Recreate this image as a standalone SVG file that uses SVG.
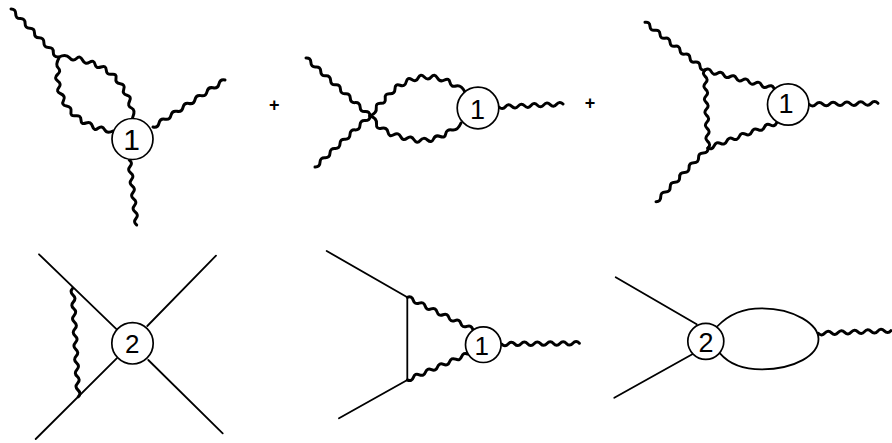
<svg xmlns="http://www.w3.org/2000/svg" width="892" height="443" viewBox="0 0 892 443">
<style>
.w{fill:none;stroke:#000;stroke-width:3;stroke-linecap:round;stroke-linejoin:round}
.s{fill:none;stroke:#000;stroke-width:1.8;stroke-linecap:round}
.c{fill:#fff;stroke:#000;stroke-width:1.7}
.n{font-family:"Liberation Sans",Arial,sans-serif;fill:#000;text-anchor:middle}
.p{font-family:"Liberation Sans",Arial,sans-serif;font-weight:bold;font-size:18px;fill:#000;text-anchor:middle}
</style>
<rect width="892" height="443" fill="#fff"/>
<g id="connectors">
<!-- diagram 1 -->
<path class="w" d="M11 9q4.8 -.05 4.7 4.8t4.7 4.8t4.7 4.8t4.7 4.8t4.7 4.8t4.7 4.8t4.7 4.8t4.7 4.8t4.7 4.8t4.7 4.8"/>
<path class="w" d="M153 127q4.9 .98 6 -3.92t6 -3.92t6 -3.92t6 -3.92t6 -3.92t6 -3.92t6 -3.92t6 -3.92t6 -3.92t6 -3.92t6 -3.92t6 -3.92"/>
<path class="w" d="M129.3 160q3.87 2.85 .74 6.5t.74 6.5t.74 6.5t.74 6.5t.74 6.5t.74 6.5t.74 6.5t.74 6.5t.74 6.5t.74 6.5"/>
<path class="w" d="M59 57Q66 53.5 69.5 57.75Q73 62 76.5 58.5Q80 55 82.5 60Q85 65 89.5 62.25Q94 59.5 95 64.25Q96 69 101 67Q106 65 106.25 70Q106.5 75 111.75 74.25Q117 73.5 116 78.25Q115 83 120.25 83.75Q125.5 84.5 123.75 89.25Q122 94 127 95.25Q132 96.5 129.5 101.25Q127 106 131.5 108Q136 110 132.5 118"/>
<path class="w" d="M59 58Q55 65 58.25 68Q61.5 71 57.5 74.5Q53.5 78 57.75 81Q62 84 58.75 87.75Q55.5 91.5 60.75 93.75Q66 96 63.5 100.5Q61 105 66.5 106Q72 107 71 111.75Q70 116.5 75.5 115.75Q81 115 81 120Q81 125 86 123Q91 121 92.5 126.25Q94 131.5 98 128.25Q102 125 104.5 129.5Q107 134 113 131"/>
<!-- diagram 2 -->
<path class="w" d="M306 58q4.82 -.36 4.92 4.46t4.92 4.46t4.92 4.46t4.92 4.46t4.92 4.46t4.92 4.46t4.92 4.46t4.92 4.46t4.92 4.46t4.92 4.46t4.92 4.46t4.92 4.46t4.92 4.46"/>
<path class="w" d="M315 167q4.88 .24 5 -4.64t5 -4.64t5 -4.64t5 -4.64t5 -4.64t5 -4.64t5 -4.64t5 -4.64t5 -4.64t5 -4.64t5 -4.64"/>
<path class="w" d="M499 107q3.37 3.35 6.4 -.3t6.4 -.3t6.4 -.3t6.4 -.3t6.4 -.3t6.4 -.3t6.4 -.3t6.4 -.3t6.4 -.3t6.4 -.3"/>
<path class="w" d="M370 116Q377 113 376.25 108Q375.5 103 380.75 103.25Q386 103.5 385.25 98.5Q384.5 93.5 389.75 93.75Q395 94 395 88.75Q395 83.5 400 85.25Q405 87 406.25 81.75Q407.5 76.5 411.75 79.5Q416 82.5 418.25 77.75Q420.5 73 424.25 77Q428 81 431.25 77Q434.5 73 437.25 77.75Q440 82.5 444.5 80Q449 77.5 450 82.5Q451 87.5 456 86Q461 84.5 465 92"/>
<path class="w" d="M370 116Q377 118 376.5 123.75Q376 129.5 381.5 128.25Q387 127 388 132.25Q389 137.5 393.75 134.75Q398.5 132 400.75 136.75Q403 141.5 407 138.25Q411 135 414 139.75Q417 144.5 420.25 140.5Q423.5 136.5 427.5 140Q431.5 143.5 433.5 139Q435.5 134.5 440.25 136.5Q445 138.5 445.75 133.75Q446.5 129 452 130Q457.5 131 461 123"/>
<!-- diagram 3 -->
<path class="w" d="M645 22.3q4.67 -.74 5 3.98t5 3.98t5 3.98t5 3.98t5 3.98t5 3.98t5 3.98t5 3.98t5 3.98t5 3.98t5 3.98t5 3.98"/>
<path class="w" d="M656 201.7q4.89 -.02 4.73 -4.88t4.73 -4.88t4.73 -4.88t4.73 -4.88t4.73 -4.88t4.73 -4.88t4.73 -4.88t4.73 -4.88t4.73 -4.88t4.73 -4.88t4.73 -4.88"/>
<path class="w" d="M705 70q4.05 -2.57 6.27 1.66t6.27 1.66t6.27 1.66t6.27 1.66t6.27 1.66t6.27 1.66t6.27 1.66t6.27 1.66t6.27 1.66t6.27 1.66t6.27 1.66"/>
<path class="w" d="M708 148q4.35 2.14 6.25 -2.3t6.25 -2.3t6.25 -2.3t6.25 -2.3t6.25 -2.3t6.25 -2.3t6.25 -2.3t6.25 -2.3t6.25 -2.3t6.25 -2.3t6.25 -2.3"/>
<path class="w" d="M705 70q-3.37 3.35 .25 6.5t.25 6.5t.25 6.5t.25 6.5t.25 6.5t.25 6.5t.25 6.5t.25 6.5t.25 6.5t.25 6.5t.25 6.5t.25 6.5"/>
<path class="w" d="M809 104.3q3.52 3.45 6.9 -.1t6.9 -.1t6.9 -.1t6.9 -.1t6.9 -.1t6.9 -.1t6.9 -.1t6.9 -.1t6.9 -.1t6.9 -.1"/>
<!-- diagram 4 -->
<path class="s" d="M39 254.3L116.7 329.3M147.3 326L216 255.7M116.7 358.3L35.7 439M148.3 360L222.7 433.3"/>
<path class="w" d="M72.7 288.3q-3.33 3.57 .35 6.78t.35 6.78t.35 6.78t.35 6.78t.35 6.78t.35 6.78t.35 6.78t.35 6.78t.35 6.78t.35 6.78t.35 6.78t.35 6.78t.35 6.78t.35 6.78t.35 6.78t.35 6.78"/>
<!-- diagram 5 -->
<path class="s" d="M326.7 251L407.3 297.3V380L339 418.3"/>
<path class="w" d="M407.3 297.3q4.52 -1.7 5.95 2.91t5.95 2.91t5.95 2.91t5.95 2.91t5.95 2.91t5.95 2.91t5.95 2.91t5.95 2.91t5.95 2.91t5.95 2.91t5.95 2.91"/>
<path class="w" d="M407.3 380q4.42 1.92 6.04 -2.6t6.04 -2.6t6.04 -2.6t6.04 -2.6t6.04 -2.6t6.04 -2.6t6.04 -2.6t6.04 -2.6t6.04 -2.6t6.04 -2.6"/>
<path class="w" d="M501.7 344q3.23 3.47 6.47 -.06t6.47 -.06t6.47 -.06t6.47 -.06t6.47 -.06t6.47 -.06t6.47 -.06t6.47 -.06t6.47 -.06t6.47 -.06t6.47 -.06t6.47 -.06"/>
<!-- diagram 6 -->
<path class="s" d="M615.7 277.3L696.7 324.3M614.3 397.7L692.3 354.3"/>
<path class="s" d="M717.7 326C730 313 745 308.3 761.7 308.3C795 308.3 818.5 325 818.5 339C818.5 355 795 369.3 761.7 369.3C745 369.3 730 365 720 353.3"/>
<path class="w" d="M818.3 333.3q3.42 3.38 6.6 -.24t6.6 -.24t6.6 -.24t6.6 -.24t6.6 -.24t6.6 -.24t6.6 -.24t6.6 -.24t6.6 -.24t6.6 -.24t6.6 -.24"/>
</g>
<g id="node-d1"><circle class="c" cx="132.5" cy="139" r="20.5"/><text class="n" x="131.5" y="150" font-size="30">1</text></g>
<g id="node-d2"><circle class="c" cx="478" cy="108" r="20.8"/><text class="n" x="477.5" y="119.3" font-size="27">1</text></g>
<g id="node-d3"><circle class="c" cx="788.2" cy="104.5" r="20.7"/><text class="n" x="786" y="113" font-size="27">1</text></g>
<g id="node-d4"><circle class="c" cx="132.5" cy="343.3" r="20.7"/><text class="n" x="132.3" y="353.3" font-size="26">2</text></g>
<g id="node-d5"><circle class="c" cx="483.3" cy="344.7" r="17.8"/><text class="n" x="481.7" y="355" font-size="26">1</text></g>
<g id="node-d6"><circle class="c" cx="705.8" cy="341.3" r="18"/><text class="n" x="706" y="351.5" font-size="27">2</text></g>
<text class="p" x="274.3" y="111">+</text>
<text class="p" x="590" y="108.7">+</text>
</svg>
